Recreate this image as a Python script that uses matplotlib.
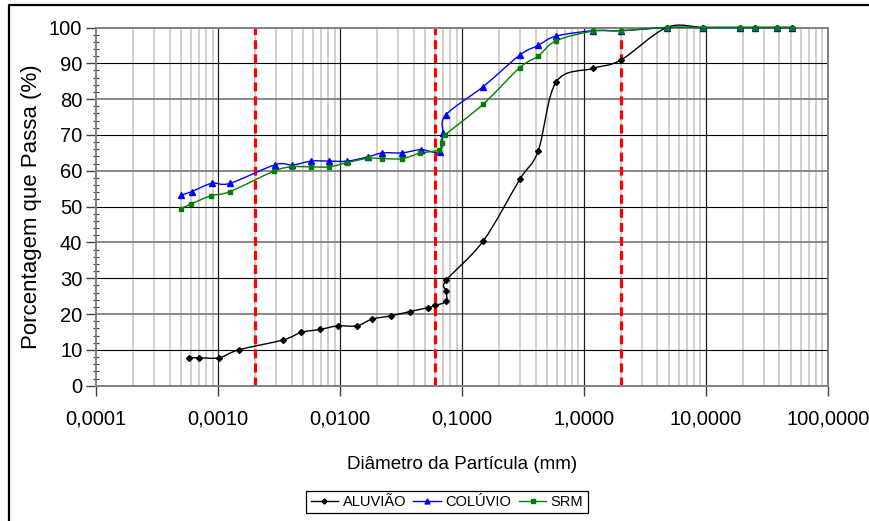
import numpy as np
import matplotlib
matplotlib.use("Agg")
import matplotlib.pyplot as plt
from matplotlib.path import Path
from matplotlib.patches import PathPatch
from matplotlib.lines import Line2D
from matplotlib.ticker import FixedLocator, FuncFormatter, MultipleLocator

plt.rcParams['font.family'] = ['Liberation Sans', 'DejaVu Sans']

# ---------------- data ----------------
x_alu = [0.00058, 0.000697, 0.00102, 0.00147, 0.00342, 0.00481, 0.00684, 0.00955, 0.0137,
         0.0183, 0.0260, 0.0374, 0.0524, 0.0604, 0.074, 0.074, 0.074, 0.149, 0.297, 0.42,
         0.59, 1.19, 2.0, 4.76, 9.52, 19.1, 25.4, 38.1, 50.8]
y_alu = [7.8, 7.8, 7.8, 10.0, 12.8, 14.9, 15.7, 16.7, 16.7,
         18.6, 19.5, 20.7, 21.8, 22.4, 23.6, 26.5, 29.4, 40.4, 57.6, 65.5,
         84.8, 88.6, 90.9, 100, 100, 100, 100, 100, 100]

x_col = [0.000499, 0.000607, 0.000885, 0.00125, 0.00294, 0.00406, 0.00581, 0.00811, 0.01146,
         0.0170, 0.0222, 0.0322, 0.0458, 0.0655, 0.0693, 0.0735, 0.149, 0.297, 0.42, 0.59,
         1.19, 2.0, 4.76, 9.52, 19.1, 25.4, 38.1, 50.8]
y_col = [53.2, 54.2, 56.5, 56.5, 61.7, 61.6, 62.7, 62.7, 62.7,
         63.9, 65.0, 65.0, 65.9, 65.3, 70.5, 75.6, 83.5, 92.3, 95.0, 97.6,
         99.1, 99.1, 100, 100, 100, 100, 100, 100]

x_srm = [0.000493, 0.000596, 0.000869, 0.00125, 0.00287, 0.00401, 0.00574, 0.00811, 0.01146,
         0.0170, 0.0222, 0.0322, 0.0452, 0.0643, 0.0681, 0.0721, 0.149, 0.297, 0.42, 0.59,
         1.19, 2.0, 4.76, 9.52, 19.1, 25.4, 38.1, 50.8]
y_srm = [49.4, 50.7, 53.0, 54.2, 59.9, 61.1, 61.1, 61.1, 62.3,
         63.5, 63.4, 63.4, 64.9, 65.8, 67.8, 69.9, 78.6, 88.8, 92.0, 96.3,
         99.0, 99.1, 100, 100, 100, 100, 100, 100]

limits = [0.002, 0.06, 2.0]
x_ticks = [0.0001, 0.001, 0.01, 0.1, 1, 10, 100]
y_ticks = [0, 10, 20, 30, 40, 50, 60, 70, 80, 90, 100]

series = [
    ("ALUVIÃO", x_alu, y_alu, "black", "D", 3.0),
    ("COLÚVIO", x_col, y_col, "#0000ff", "^", 4.2),
    ("SRM", x_srm, y_srm, "#008000", "s", 3.3),
]


def smooth_path(xs, ys):
    """Excel-like smoothed line: cubic Bezier (Catmull-Rom) in log-x space."""
    u = np.log10(np.asarray(xs, float))
    v = np.asarray(ys, float)
    P = np.column_stack([u, v])
    n = len(P)
    verts = [P[0]]
    codes = [Path.MOVETO]
    for i in range(n - 1):
        p0 = P[i - 1] if i > 0 else P[i]
        p1 = P[i]
        p2 = P[i + 1]
        p3 = P[i + 2] if i + 2 < n else P[i + 1]
        c1 = p1 + (p2 - p0) / 6.0
        c2 = p2 - (p3 - p1) / 6.0
        verts += [c1, c2, p2]
        codes += [Path.CURVE4] * 3
    verts = np.array(verts)
    verts[:, 0] = 10 ** verts[:, 0]
    return Path(verts, codes)


fig = plt.figure(figsize=(8.7, 5.21), dpi=100)
ax = fig.add_axes([96.2 / 870, 1 - 385.7 / 521, (828 - 96.2) / 870, (385.7 - 27.5) / 521])
ax.set_xscale('log')
ax.set_xlim(0.0001, 100)
ax.set_ylim(0, 100)

# grid
for yv in y_ticks:
    if yv in (0, 100):
        continue
    if yv % 20 == 0:
        ax.axhline(yv, color='#808080', lw=1.3, zorder=0.6)
    else:
        ax.axhline(yv, color='black', lw=0.8, zorder=0.7)
for d in range(-4, 2):
    for m in range(2, 10):
        ax.axvline(m * 10.0 ** d, color='#c4c4c4', lw=1.1, zorder=0.5)
for xv in x_ticks[1:-1]:
    ax.axvline(xv, color='#202020', lw=0.9, zorder=0.7)

# red limit lines
for xv in limits:
    ax.axvline(xv, color='#ff0000', lw=2.3, ls=(0, (2.8, 1.6)), zorder=1.5)

# series
for name, xs, ys, col, mk, ms in series:
    patch = PathPatch(smooth_path(xs, ys), facecolor='none', edgecolor=col, lw=1.0,
                      zorder=3, clip_on=False)
    ax.add_patch(patch)
    ax.plot(xs, ys, ls='none', marker=mk, color=col, ms=ms, mec=col, mfc=col,
            zorder=4, clip_on=False)

# axes styling
for s in ax.spines.values():
    s.set_color('#808080')
    s.set_linewidth(1.4)
    s.set_zorder(2)

ax.xaxis.set_major_locator(FixedLocator(x_ticks))
ax.xaxis.set_minor_locator(FixedLocator([]))
ax.xaxis.set_major_formatter(FuncFormatter(lambda v, p: f"{v:.4f}".replace('.', ',')))
ax.yaxis.set_major_locator(FixedLocator(y_ticks))
ax.yaxis.set_minor_locator(MultipleLocator(2))
ax.yaxis.set_major_formatter(FuncFormatter(lambda v, p: f"{v:.0f}"))
ax.tick_params(axis='x', which='major', direction='out', length=7, width=1.0,
               color='#404040', labelsize=14.5, pad=10)
ax.tick_params(axis='y', which='major', direction='out', length=7, width=1.0,
               color='#404040', labelsize=14.5, pad=3)
ax.tick_params(axis='y', which='minor', direction='inout', length=5, width=0.9,
               color='#404040')

ax.set_xlabel("Diâmetro da Partícula (mm)", fontsize=13.5, labelpad=20)
ax.set_ylabel("Porcentagem que Passa (%)", fontsize=16, labelpad=5)

# legend
handles = [Line2D([0], [0], color=col, marker=mk, ms=ms * 0.85, lw=1.0)
           for name, xs, ys, col, mk, ms in series]
labels = [s[0] for s in series]
leg = fig.legend(handles, labels, loc='center', bbox_to_anchor=(447 / 870, 1 - 502 / 521),
                 ncol=3, fontsize=10.5, frameon=True, fancybox=False, edgecolor='black',
                 framealpha=1, handlelength=1.9, handletextpad=0.3, columnspacing=0.5,
                 borderpad=0.3, borderaxespad=0.0)
leg.get_frame().set_linewidth(0.9)

# outer chart frame (top and left visible)
fig.add_artist(Line2D([9.5 / 870, 9.5 / 870, 1.0], [0.0, 1 - 5 / 521, 1 - 5 / 521],
                      transform=fig.transFigure, color='black', lw=1.6))

fig.savefig("out.png", dpi=100)
